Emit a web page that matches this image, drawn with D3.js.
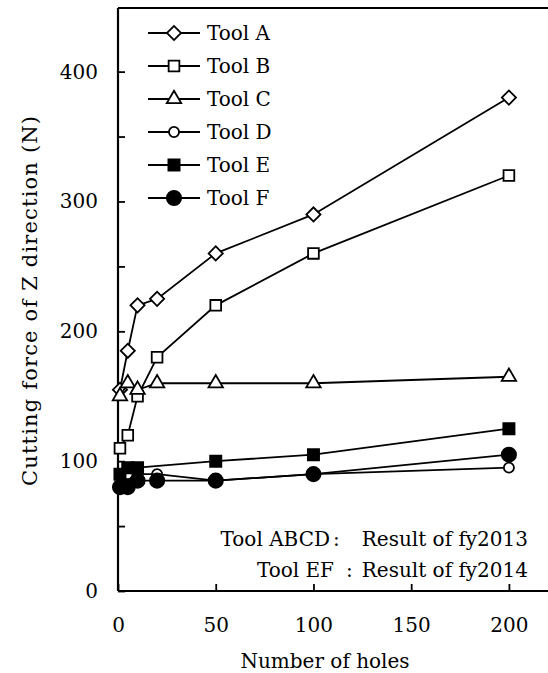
<!DOCTYPE html>
<html>
<head>
<meta charset="utf-8">
<script src="https://cdn.jsdelivr.net/npm/d3@7"></script>
<style>
  body { margin: 0; background: #fff; }
  svg { display: block; font-family: "DejaVu Serif", serif; }
</style>
</head>
<body>
<svg id="chart" width="548" height="673"></svg>
<script>
// values
const holes = [1, 5, 10, 20, 50, 100, 200];
const toolA = [155, 185, 220, 225, 260, 290, 380];
const toolB = [110, 120, 150, 180, 220, 260, 320];
const toolC = [150, 160, 155, 160, 160, 160, 165];
const toolD = [90, 90, 90, 90, 85, 90, 95];
const toolE = [90, 95, 95, null, 100, 105, 125];
const toolF = [80, 80, 85, 85, 85, 90, 105];
const toolNames = ['Tool A', 'Tool B', 'Tool C', 'Tool D', 'Tool E', 'Tool F'];
const xTicks = [0, 50, 100, 150, 200];
const yTicks = [0, 50, 100, 150, 200, 250, 300, 350, 400];

const series = [
  { name: toolNames[0], values: toolA, shape: 'diamond', fill: '#fff', size: 100 },
  { name: toolNames[1], values: toolB, shape: 'square', fill: '#fff', size: 115 },
  { name: toolNames[2], values: toolC, shape: 'triangle', fill: '#fff', size: 90 },
  { name: toolNames[3], values: toolD, shape: 'circle', fill: '#fff', size: 80 },
  { name: toolNames[4], values: toolE, shape: 'square', fill: '#000', size: 125 },
  { name: toolNames[5], values: toolF, shape: 'circle', fill: '#000', size: 160 }
];

const margin = { left: 118, top: 8, bottom: 591 };
const svg = d3.select('#chart');

const x = d3.scaleLinear().domain([0, 220]).range([margin.left, 548]);
const y = d3.scaleLinear().domain([0, 449]).range([margin.bottom, margin.top]);

const symbolFor = (s) => {
  const type = s.shape === 'circle' ? d3.symbolCircle
    : s.shape === 'triangle' ? d3.symbolTriangle
    : d3.symbolSquare;
  return d3.symbol().type(type).size(s.size)();
};

// axes
const yAxis = svg.append('g')
  .attr('transform', `translate(${margin.left},0)`)
  .call(d3.axisLeft(y).tickValues(yTicks).tickSize(-7).tickPadding(20)
    .tickFormat(d => d % 100 === 0 ? d : ''));
const xAxis = svg.append('g')
  .attr('transform', `translate(0,${margin.bottom})`)
  .call(d3.axisBottom(x).tickValues(xTicks).tickSize(-7).tickPadding(27));

[yAxis, xAxis].forEach(g => {
  g.select('.domain').attr('stroke-width', 2.2);
  g.selectAll('.tick line').attr('stroke-width', 1.8);
  g.selectAll('text').attr('font-size', 20).attr('font-family', '"DejaVu Serif", serif').attr('fill', '#000');
});
yAxis.select('.domain').attr('d', `M0,${y(449)}V${margin.bottom}`);
xAxis.select('.domain').attr('d', `M${margin.left},0H548`);

// top frame line
svg.append('line')
  .attr('x1', margin.left).attr('x2', 548)
  .attr('y1', y(449)).attr('y2', y(449))
  .attr('stroke', '#000').attr('stroke-width', 2.2);

// series
const line = d3.line()
  .x(d => x(d.h))
  .y(d => y(d.v));

series.forEach(s => {
  const pts = holes.map((h, i) => ({ h, v: s.values[i] })).filter(d => d.v != null);
  const g = svg.append('g');
  g.append('path')
    .datum(pts)
    .attr('d', line)
    .attr('fill', 'none')
    .attr('stroke', '#000')
    .attr('stroke-width', 1.8);
  g.selectAll('path.mark')
    .data(pts)
    .join('path')
    .attr('class', 'mark')
    .attr('d', symbolFor(s))
    .attr('transform', d => `translate(${x(d.h)},${y(d.v)})${s.shape === 'diamond' ? ' rotate(45)' : ''}`)
    .attr('fill', s.fill)
    .attr('stroke', '#000')
    .attr('stroke-width', 1.8);
});

// legend
const legend = svg.append('g').attr('transform', 'translate(148,33)');
series.forEach((s, i) => {
  const row = legend.append('g').attr('transform', `translate(0,${i * 33})`);
  row.append('line').attr('x1', 0).attr('x2', 52).attr('stroke', '#000').attr('stroke-width', 1.8);
  row.append('path')
    .attr('d', symbolFor(s))
    .attr('transform', `translate(26,0)${s.shape === 'diamond' ? ' rotate(45)' : ''}`)
    .attr('fill', s.fill).attr('stroke', '#000').attr('stroke-width', 1.8);
  row.append('text')
    .attr('x', 59).attr('dy', '0.35em')
    .attr('font-size', 20)
    .text(s.name);
});

// note (bottom right)
const note = svg.append('g').attr('font-size', 20).style('white-space', 'pre');
note.append('text').attr('x', 330).attr('y', 546).attr('text-anchor', 'end').text('Tool ABCD');
note.append('text').attr('x', 333).attr('y', 546).text(':');
note.append('text').attr('x', 528).attr('y', 546).attr('text-anchor', 'end').text('Result of  fy2013');
note.append('text').attr('x', 334).attr('y', 577).attr('text-anchor', 'end').text('Tool  EF');
note.append('text').attr('x', 346).attr('y', 577).text(':');
note.append('text').attr('x', 528).attr('y', 577).attr('text-anchor', 'end').text('Result of  fy2014');

// axis titles
svg.append('text')
  .attr('x', 325).attr('y', 668)
  .attr('text-anchor', 'middle').attr('font-size', 20)
  .text('Number of holes');
svg.append('text')
  .attr('transform', `translate(37,301) rotate(-90)`)
  .attr('text-anchor', 'middle').attr('font-size', 21)
  .attr('textLength', 370).attr('lengthAdjust', 'spacing')
  .text('Cutting force of Z direction (N)');
</script>
</body>
</html>
